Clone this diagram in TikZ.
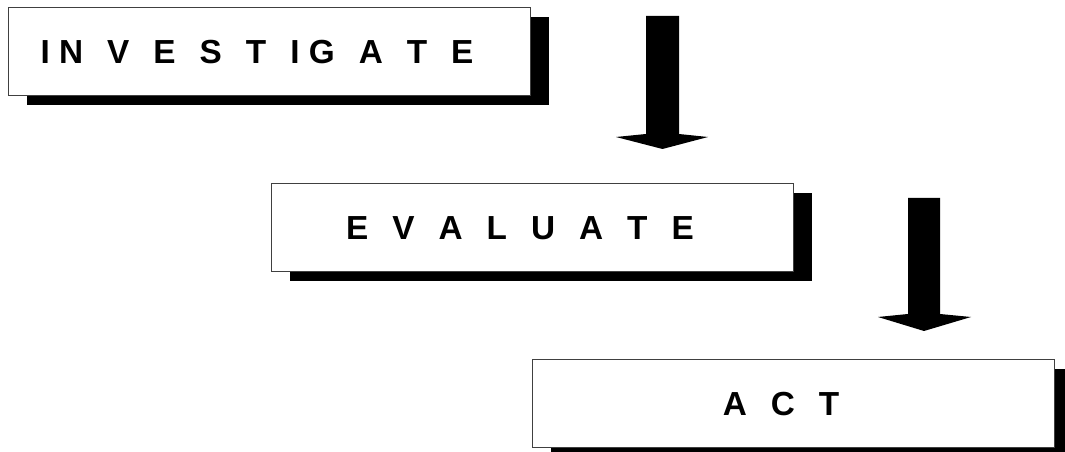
\documentclass[tikz,border=0pt]{standalone}
\usepackage{fontspec}
\setmainfont{Liberation Sans}
\usetikzlibrary{shadows}

% letters with tracking, ~ for a word gap
\newlength{\trackgap}\setlength{\trackgap}{7pt}
\newlength{\wordgap}\setlength{\wordgap}{11pt}
\makeatletter
\newcommand{\spaced}[1]{\spaced@#1\relax}
\def\spaced@#1{\ifx#1\relax\else\ifx#1~\kern\wordgap\else#1\kern\trackgap\fi
	\expandafter\spaced@\fi}
\makeatother

\begin{document}
\begin{tikzpicture}[x=0.75pt, y=-0.75pt,
			stage/.style={draw=black!75, line width=0.75pt, fill=white,
				minimum width=391.5pt, minimum height=66pt, inner sep=0pt,
				drop shadow={shadow xshift=14.5pt, shadow yshift=-6.75pt,
					fill=black, opacity=1},
				font=\fontsize{25}{30}\selectfont\bfseries},
			flow/.style={fill=black}]
	\useasboundingbox (0,0) rectangle (1065,452);

	\node[stage] (investigate) at (269,52) {\spaced{IN~V~E~S~T~IG~A~T~E~}};
	\node[stage] (evaluate) at (532,228) {\spaced{E~V~A~L~U~A~T~E~}};
	\node[stage] (act) at (793,404) {\spaced{A~C~T~}};

	% block arrows
	\coordinate (down1) at (662.5,16);
	\coordinate (down2) at (924,198);
	\fill[flow] (down1) +(-16.5,0) -- +(16.5,0) -- +(16.5,118) -- +(45.5,121)
		-- +(0,133) -- +(-46.5,121) -- +(-16.5,118) -- cycle;
	\fill[flow] (down2) +(-16,0) -- +(16,0) -- +(16,116) -- +(47,119)
		-- +(0,133) -- +(-46,119) -- +(-16,116) -- cycle;
\end{tikzpicture}
\end{document}
